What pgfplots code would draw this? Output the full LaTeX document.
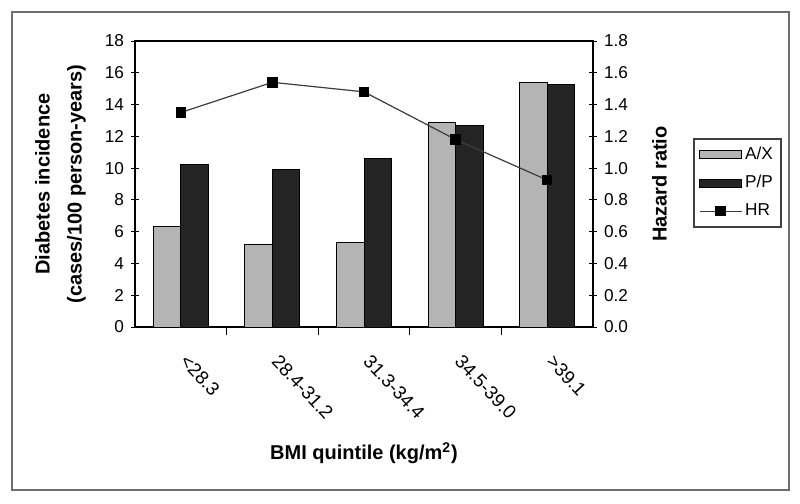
\documentclass[border=0pt]{standalone}
\usepackage{pgfplots}
\pgfplotsset{compat=1.18}
\usetikzlibrary{calc}
\usepackage{fontspec}
\setmainfont{Liberation Sans}
\definecolor{axbar}{RGB}{180,180,180}
\definecolor{ppbar}{RGB}{36,36,36}
\definecolor{hrline}{RGB}{60,60,60}
\definecolor{frame}{RGB}{110,110,110}

\begin{document}
\begin{tikzpicture}
\pgfplotsset{
  common/.style={
    width=229pt, height=143pt, scale only axis,
    xmin=-0.5, xmax=4.5,
    tick align=center, major tick length=4pt, minor tick length=4pt,
    tick style={black, line width=0.5pt},
    axis line style={line width=0.6pt},
    /pgf/number format/assume math mode=true,
    tick label style={font=\fontsize{8.6}{10}\selectfont},
    label style={font=\bfseries\fontsize{10}{12}\selectfont},
  },
  barlegend/.style={legend image code/.code={\draw[##1, line width=0.5pt] (0pt,-2pt) rectangle (21pt,2pt);}},
  hrlegend/.style={legend image code/.code={\draw[mark repeat=2,mark phase=2,##1] plot coordinates {(0pt,0pt) (10.5pt,0pt) (21pt,0pt)};}},
}
% ---- left axis: incidence bars ----
\begin{axis}[common, name=a,
  ymin=0, ymax=18, ytick={0,2,4,6,8,10,12,14,16,18}, ytick pos=left,
  xtick={0,1,2,3,4}, xtick pos=bottom,
  xticklabels={{<28.3},{28.4-31.2},{31.3-34.4},{34.5-39.0},{>39.1}},
  major x tick style={draw=none}, minor x tick num=1,
  xticklabel style={inner sep=0pt, xshift=4pt, yshift=-9pt, rotate=-47, anchor=north west,
    font=\fontsize{9.4}{11}\selectfont},
  ylabel={Diabetes incidence\\[4pt](cases/100 person-years)},
  ylabel style={align=center, at={(axis description cs:-0.092,0.5)}, anchor=south},
  xlabel={BMI quintile (kg/m\textsuperscript{2})},
  xlabel style={at={(axis description cs:0.5,-0.465)}, anchor=base},
  ybar=0pt, bar width=13.75pt,
]
\addplot[fill=axbar, draw=black, line width=0.5pt] coordinates {(0,6.3) (1,5.2) (2,5.3) (3,12.85) (4,15.4)};
\addplot[fill=ppbar, draw=black, line width=0.5pt] coordinates {(0,10.2) (1,9.9) (2,10.6) (3,12.7) (4,15.25)};
\end{axis}
% ---- right axis: hazard ratio ----
\begin{axis}[common,
  ymin=0, ymax=1.8, ytick={0,0.2,0.4,0.6,0.8,1.0,1.2,1.4,1.6,1.8},
  axis y line*=right, axis x line=none,
  yticklabel style={/pgf/number format/.cd, fixed, fixed zerofill, precision=1},
  ylabel={Hazard ratio},
  ylabel style={at={(axis description cs:1.1135,0.5)}, anchor=north},
  legend style={at={(axis description cs:1,1)}, anchor=north west, xshift=50pt, yshift=-48.5pt,
    draw=black!75, line width=0.9pt, font=\fontsize{8.6}{10}\selectfont,
    row sep=3.5pt, inner sep=2.5pt, nodes={inner sep=1.5pt}},
  legend cell align=left,
]
\addlegendimage{barlegend, fill=axbar, draw=black}
\addlegendentry{A/X}
\addlegendimage{barlegend, fill=ppbar, draw=black}
\addlegendentry{P/P}
\addplot[hrline, line width=0.6pt, mark=square*, mark size=2.3pt, mark options={black, fill=black}, hrlegend]
  coordinates {(0,1.35) (1,1.54) (2,1.48) (3,1.18) (4,0.925)};
\addlegendentry{HR}
\end{axis}
% outer frame and page extent
\draw[frame, line width=1pt] ($(a.south west)+(-61.5pt,-81.5pt)$) rectangle ($(a.north east)+(98pt,14.5pt)$);
\path ($(a.south west)+(-67.5pt,-88pt)$) rectangle ($(a.north east)+(103.5pt,20.5pt)$);
\end{tikzpicture}
\end{document}
